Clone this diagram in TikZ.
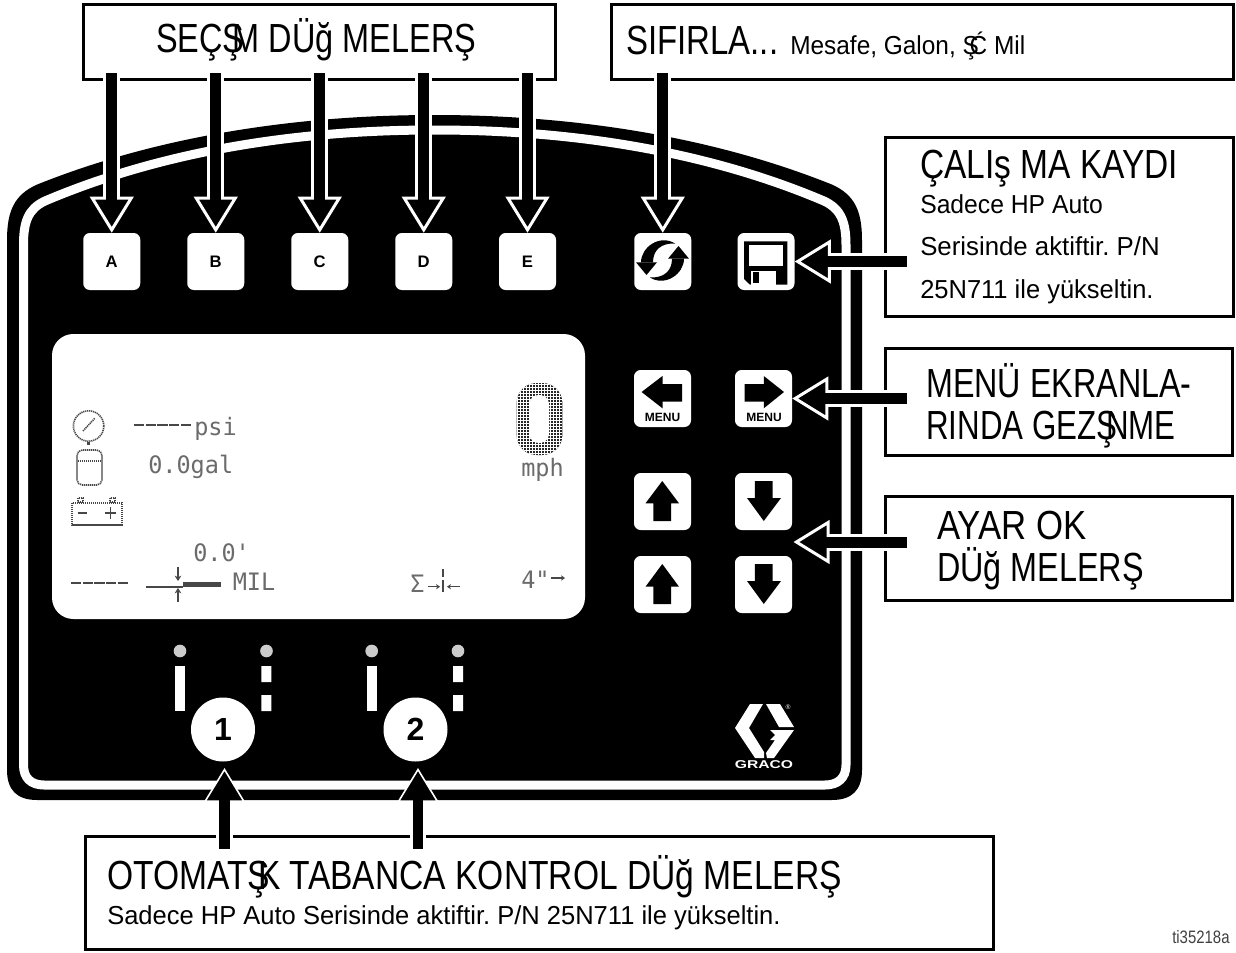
\documentclass[tikz,border=0pt]{standalone}
\usepackage{fontspec}
\usepackage{graphicx}
\usetikzlibrary{arrows.meta,calc}
\setmainfont{Liberation Sans}
\newfontfamily\lcdf[FakeStretch=0.98]{DejaVu Sans Mono}
\newcommand{\bigt}{\fontsize{30.5}{32}\selectfont}
\newcommand{\smallt}{\fontsize{19.5}{22}\selectfont}
\newcommand{\fitline}[2]{\resizebox{#1pt}{\height}{#2}}
\colorlet{lcdgray}{black!58}
\colorlet{lcddark}{black!72}
\tikzset{
  x=0.75pt,y=-0.75pt,
  cbox/.style={draw=black,fill=white,line width=2.25pt,inner sep=0pt},
  keybtn/.style={fill=white,rounded corners=5pt,minimum width=42.75pt,minimum height=42.75pt,inner sep=0pt,font=\bfseries\fontsize{12.5}{14}\selectfont},
  txt/.style={anchor=base west,inner sep=0pt,black},
  lcd/.style={anchor=base west,inner sep=0pt,lcdgray,font=\lcdf\fontsize{18}{20}\selectfont},
  lcdline/.style={draw=lcddark,line width=0.8pt},
  lcddot/.style={draw=lcddark,line width=1.2pt,dash pattern=on 0.9pt off 0.6pt},
  halo/.style={draw=white,line width=12.75pt,-{Triangle[length=27pt,width=32.6pt,fill=black,line width=2.25pt]}},
  core/.style={draw=black,line width=8.25pt},
  halob/.style={draw=white,line width=12.5pt,shorten >=4.5pt,-{Triangle[length=25.5pt,width=30.8pt,fill=black,line width=1.2pt]}},
  coreb/.style={draw=black,line width=7.9pt},
  led/.style={circle,fill=black!20,minimum size=9.5pt,inner sep=0pt},
}
\newcommand{\calloutarrow}[2]{%
  \draw[halo] (#1) -- (#2);
  \draw[core] (#1) -- ($(#2)!24pt!(#1)$);
}
\newcommand{\calloutarrowb}[2]{%
  \draw[halob] (#1) -- (#2);
  \draw[coreb] (#1) -- ($(#2)!26pt!(#1)$);
}
\begin{document}
\frenchspacing
\begin{tikzpicture}
\useasboundingbox (0,0) rectangle (1236,953);
% panel
\fill[black] (7,240) .. controls (7,210) and (15,195) .. (36,185) .. controls (160,135) and (300,115) .. (434.5,115) .. controls (569,115) and (709,135) .. (833,185) .. controls (854,195) and (862,210) .. (862,240) -- (862,770) .. controls (862,790) and (852,800) .. (832,800) -- (37,800) .. controls (17,800) and (7,790) .. (7,770) -- cycle;
\draw[white,line width=6.75pt] (23.5,245) .. controls (23.5,222) and (28,209) .. (45,201) .. controls (165,150) and (300,130) .. (434.5,130) .. controls (569,130) and (704,150) .. (824,201) .. controls (841,209) and (846,222) .. (846,245) -- (846,765) .. controls (846,778) and (838,785) .. (825,785) -- (44,785) .. controls (31,785) and (23.5,778) .. (23.5,765) -- cycle;
% screen
\fill[white,rounded corners=16pt] (52,334) rectangle (585,619);
% lcd content
\draw[lcddot] (88.6,426) circle[radius=15.2];
\draw[lcddot] (83,431) -- (95,418);
\draw[lcdline,line width=2pt] (88.6,442) -- (88.6,445);
\draw[lcdline,dash pattern=on 7.75pt off 1pt,line width=1pt] (134,425) -- (191,425);
\node[lcd] (tpsi) at (194,435) {psi};
\draw[lcddot,rounded corners=4pt] (77,450) rectangle (102,485);
\draw[lcddot] (78,461) -- (101,461);
\node[lcd] (tgal) at (148,473) {0.0gal};
\draw[lcddot,line width=2pt] (72,503) rectangle (122,525);
\draw[lcdline,line width=1.6pt] (72,525) -- (122,525);
\draw[lcddot,line width=1pt] (78,498) rectangle (83,502) (110,498) rectangle (115,502);
\draw[lcdline] (77.5,513) -- (87,513) (105,513) -- (116,513) (110.5,507) -- (110.5,519);
\node[lcd] (tdist) at (193,561.7) {0.0'};
\draw[lcdline,dash pattern=on 7.75pt off 1pt,line width=1pt] (71,583) -- (128.5,583);
\draw[lcdline,line width=1pt] (146,587) -- (183,587);
\fill[lcddark] (182.6,581.5) rectangle (220.5,587);
\draw[lcdline,-{Stealth[length=4pt,width=5pt]}] (178,567) -- (178,581);
\draw[lcdline,-{Stealth[length=4pt,width=5pt]}] (178,602) -- (178,588);
\node[lcd] (tmil) at (232.5,590.7) {MIL};
\node[lcd] (tsum) at (410,592) {Σ};
\draw[lcdline,-{Stealth[length=3pt,width=4pt]}] (428,586.7) -- (440,586.7);
\draw[lcdline,line width=1.2pt] (443,569) -- (443,577) (443,580) -- (443,592);
\draw[lcdline,-{Stealth[length=3pt,width=4pt]}] (460,586.7) -- (447,586.7);
\node[lcd] (tfour) at (521,588) {4"};
\draw[lcdline,-{Stealth[length=3pt,width=4pt]}] (551,578) -- (565,578);
\node[lcd] (tmph) at (521,476) {mph};
% big zero
\begin{scope}[rounded corners=15pt]
\clip (516.6,383) rectangle (562.4,455);
\fill[black!85] (516,382) rectangle (563,456);
\foreach \g in {517,520,...,563}{\draw[white,line width=0.3pt,sharp corners] (\g,382) -- (\g,456);}
\foreach \g in {384,387,...,456}{\draw[white,line width=0.3pt,sharp corners] (516,\g) -- (563,\g);}
\fill[white,rounded corners=7pt] (529.3,395) rectangle (549,443);
\end{scope}
% letter buttons
\node[keybtn] (btnA) at (111.75,261.5) {A};
\node[keybtn] (btnB) at (215.75,261.5) {B};
\node[keybtn] (btnC) at (319.75,261.5) {C};
\node[keybtn] (btnD) at (423.75,261.5) {D};
\node[keybtn] (btnE) at (527.5,261.5) {E};
\node[keybtn] (btnReset) at (662.75,261.5) {};
\node[keybtn] (btnSave) at (766,261.5) {};
\node[keybtn] (btnMenuL) at (662.5,398.5) {};
\node[keybtn] (btnMenuR) at (763.5,398.5) {};
\node[keybtn] (btnUpA) at (662.5,501.5) {};
\node[keybtn] (btnDnA) at (763.5,501.5) {};
\node[keybtn] (btnUpB) at (662.5,584.5) {};
\node[keybtn] (btnDnB) at (763.5,584.5) {};
% reset icon
\fill[black] (641,262.3) .. controls (641,247) and (660,234) .. (675,243.5) .. controls (661,243) and (653,250) .. (653,262.3) -- cycle;
\fill[black] (684,258.7) .. controls (684,274) and (665,287) .. (650,277.5) .. controls (664,278) and (672,271) .. (672,258.7) -- cycle;
\fill[black] (636,262.3) -- (657,262.3) -- (646.5,275) -- cycle;
\fill[black] (689,258.7) -- (668,258.7) -- (678.5,246) -- cycle;
% save icon
\fill[black] (744,241.3) -- (787.3,241.3) -- (787.3,284.7) -- (750,284.7) -- (744,279) -- cycle;
\fill[white] (749,244.7) rectangle (782.7,265.7);
\fill[white] (750.7,270.7) rectangle (775.7,284.7);
\fill[black] (753.3,272.3) rectangle (758.7,283);
% menu arrows
\fill[black] (641.6,392) -- (662.5,376) -- (662.5,384) -- (682,384) -- (682,401.7) -- (662.5,401.7) -- (662.5,408.3) -- cycle;
\fill[black] (784,392) -- (763.8,376) -- (763.8,384) -- (744.6,384) -- (744.6,401.7) -- (763.8,401.7) -- (763.8,408.3) -- cycle;
\node[inner sep=0pt,font=\bfseries\fontsize{9}{10}\selectfont] (menuL) at (662.5,417.3) {MENU};
\node[inner sep=0pt,font=\bfseries\fontsize{9}{10}\selectfont] (menuR) at (764,417.3) {MENU};
% up / down arrows
\fill[black] (662.3,481) -- (679,503.3) -- (671,503.3) -- (671,521) -- (653.4,521) -- (653.4,503.3) -- (645.5,503.3) -- cycle;
\fill[black] (662.3,564) -- (679,586.7) -- (671,586.7) -- (671,604) -- (653.4,604) -- (653.4,586.7) -- (645.5,586.7) -- cycle;
\fill[black] (763.8,521) -- (781,498) -- (772.5,498) -- (772.5,481) -- (754.8,481) -- (754.8,498) -- (747,498) -- cycle;
\fill[black] (763.8,604) -- (781,581) -- (772.5,581) -- (772.5,564) -- (754.8,564) -- (754.8,581) -- (747,581) -- cycle;
% LEDs and bars
\node[led] (ledA) at (180,651) {};
\node[led] (ledB) at (266.5,651) {};
\node[led] (ledC) at (371.7,651) {};
\node[led] (ledD) at (458,651) {};
\fill[white] (175,666) rectangle (185,711);
\fill[white] (261.4,666) rectangle (271.3,682) (261.4,695) rectangle (271.3,711);
\fill[white] (367,666) rectangle (377,711);
\fill[white] (453,666) rectangle (463,682) (453,695) rectangle (463,711);
\node[circle,fill=white,minimum size=48pt,inner sep=0pt,font=\bfseries\fontsize{24}{26}\selectfont] (gunA) at (223,729.5) {1};
\node[circle,fill=white,minimum size=48pt,inner sep=0pt,font=\bfseries\fontsize{24}{26}\selectfont] (gunB) at (415.5,729.5) {2};
% logo
\fill[white] (735,728) -- (750,704) -- (763,704) -- (749,728) -- (764,752) -- (764,758) -- (755,758) -- cycle;
\fill[white] (766,704) -- (780,704) -- (794,727) -- (779,727) -- cycle;
\fill[white] (794,730) -- (770,730) -- (775,735) -- (770,740) -- (775,740) -- (766,753) -- (767,758) -- (774,758) -- cycle;
\node[inner sep=0pt,white,font=\fontsize{5}{6}\selectfont] (reg) at (788,707) {®};
\node[inner sep=0pt,white,font=\bfseries\fontsize{8.5}{9}\selectfont] (graco) at (764,765) {\scalebox{1.38}[1]{GRACO}};
% boxes
\node[cbox,minimum width=354pt,minimum height=56.6pt] (boxSel) at (319.5,42.25) {};
\node[cbox,minimum width=466.5pt,minimum height=56.6pt] (boxRes) at (922.5,42.25) {};
\node[cbox,minimum width=261pt,minimum height=134.25pt] (boxLog) at (1059.5,227) {};
\node[cbox,minimum width=260.25pt,minimum height=80.25pt] (boxMen) at (1059,402) {};
\node[cbox,minimum width=260.25pt,minimum height=78pt] (boxAdj) at (1059,548.5) {};
\node[cbox,minimum width=681pt,minimum height=84.4pt] (boxGun) at (539.5,892.75) {};
% callout free ends
\coordinate (sA) at (111.75,73);
\coordinate (sB) at (215.75,73);
\coordinate (sC) at (319.75,73);
\coordinate (sD) at (423.75,73);
\coordinate (sE) at (527.5,73);
\coordinate (sR) at (662.75,73);
\coordinate (sL) at (907,261.5);
\coordinate (sM) at (907,398.5);
\coordinate (sJ) at (907,542);
\coordinate (tJ) at (793.5,542);
\coordinate (sG1) at (224.5,849);
\coordinate (sG2) at (418,849);
\coordinate (tG1) at (224.5,762);
\coordinate (tG2) at (418,762);
\calloutarrow{sA}{btnA.north}
\calloutarrow{sB}{btnB.north}
\calloutarrow{sC}{btnC.north}
\calloutarrow{sD}{btnD.north}
\calloutarrow{sE}{btnE.north}
\calloutarrow{sR}{btnReset.north}
\calloutarrow{sL}{btnSave.east}
\calloutarrow{sM}{btnMenuR.east}
\calloutarrow{sJ}{tJ}
\calloutarrowb{sG1}{tG1}
\calloutarrowb{sG2}{tG2}
% labels
\node[txt,font=\bigt] (l1) at (156,53) {\fitline{240}{SEÇŞ\kern-0.36em M DÜğ MELERŞ}};
\node[txt,font=\bigt] (l2) at (626,55) {\fitline{114}{SIFIRLA...}};
\node[txt,font=\smallt] (l3) at (790,55) {\fitline{176.25}{Mesafe, Galon, Ş\kern-0.38em Ć Mil}};
\node[txt,font=\bigt] (l4) at (920,178) {\fitline{193.5}{ÇALIş MA KAYDI}};
\node[txt,font=\smallt] (l5) at (920,213) {\fitline{137}{Sadece HP Auto}};
\node[txt,font=\smallt] (l6) at (920,255.5) {\fitline{179.6}{Serisinde aktiftir. P/N}};
\node[txt,font=\smallt] (l7) at (920,298) {\fitline{175}{25N711 ile yükseltin.}};
\node[txt,font=\bigt] (l8) at (926,397) {\fitline{199}{MENÜ EKRANLA-}};
\node[txt,font=\bigt] (l9) at (926,439) {\fitline{187}{RINDA GEZŞ\kern-0.36em NME}};
\node[txt,font=\bigt] (l10) at (937,539) {\fitline{112}{AYAR OK}};
\node[txt,font=\bigt] (l11) at (937,581.7) {\fitline{155}{DÜğ MELERŞ}};
\node[txt,font=\bigt] (l12) at (107,889) {\fitline{551}{OTOMATŞ\kern-0.36em K TABANCA KONTROL DÜğ MELERŞ}};
\node[txt,font=\smallt] (l13) at (107,924) {\fitline{505}{Sadece HP Auto Serisinde aktiftir. P/N 25N711 ile yükseltin.}};
\node[txt,font=\fontsize{13.5}{15}\selectfont,black!75] (l14) at (1172,943) {\fitline{43}{ti35218a}};
\end{tikzpicture}
\end{document}
